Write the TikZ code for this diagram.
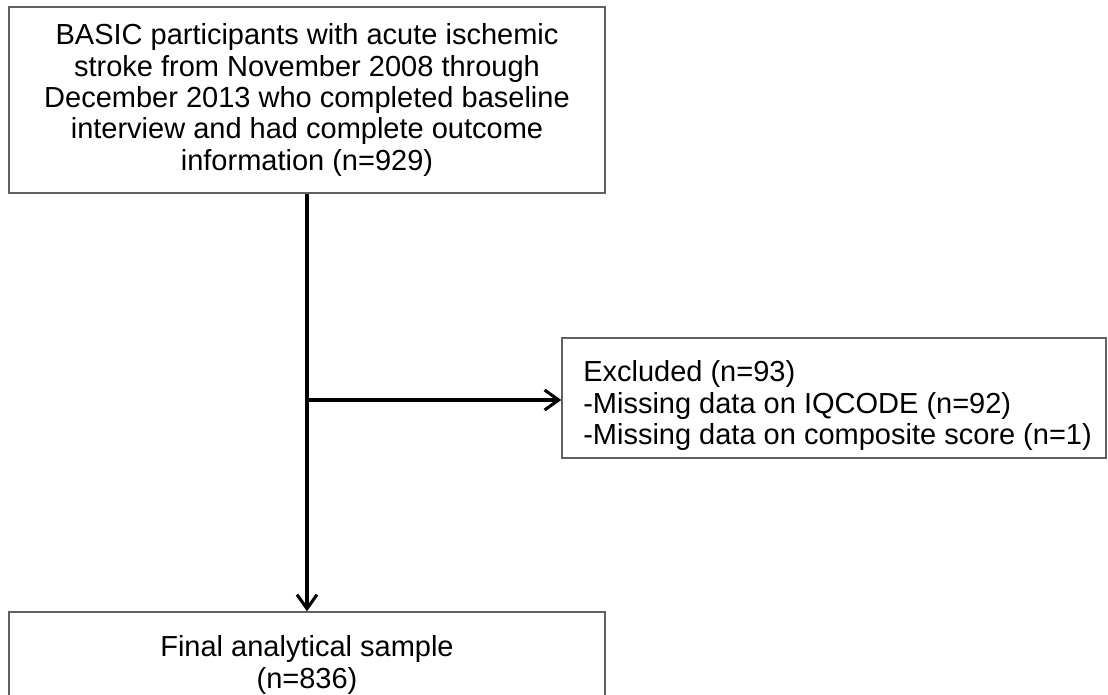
\documentclass[tikz,border=0pt]{standalone}
\usepackage{fontspec}
\setmainfont{Liberation Sans}
\usetikzlibrary{arrows.meta}
\newcommand{\flowfont}{\fontsize{21.75pt}{23.55pt}\selectfont}
\begin{document}
\begin{tikzpicture}[x=0.75pt,y=-0.75pt,
  box/.style={draw=black!62, line width=1.1pt, inner sep=0pt, font=\flowfont},
  conn/.style={line width=2.3pt, -{Straight Barb[length=10.5pt,width=15pt,line width=2.3pt]}}]
\useasboundingbox (0,0) rectangle (1108,695);
\node[box, minimum width=447pt, minimum height=139.5pt, align=center] (top) at (307,100)
  {BASIC participants with acute ischemic\\
   stroke from November 2008 through\\
   December 2013 who completed baseline\\
   interview and had complete outcome\\
   information (n=929)};
\node[box, minimum width=408pt, minimum height=90pt] (exc) at (834,398) {};
\node[anchor=base west, inner sep=0pt, font=\flowfont] (exctext) at (583,382)
  {\begin{tabular}[t]{@{}l@{}}
   Excluded (n=93)\\
   -Missing data on IQCODE (n=92)\\
   -Missing data on composite score (n=1)
   \end{tabular}};
\node[box, minimum width=447pt, minimum height=79.5pt, align=center] (fin) at (307,665)
  {Final analytical sample\\(n=836)};
\coordinate (branch) at (307,400);
\draw[conn] (top.south) -- (fin.north);
\draw[conn] (branch) -- (branch -| exc.west);
\end{tikzpicture}
\end{document}
